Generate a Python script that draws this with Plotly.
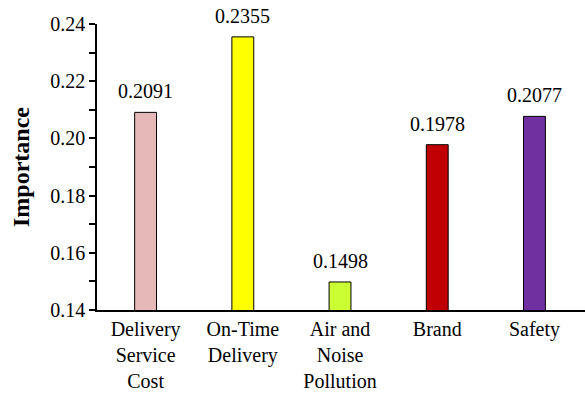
import plotly.graph_objects as go

categories = ["Delivery<br>Service<br>Cost", "On-Time<br>Delivery", "Air and<br>Noise<br>Pollution", "Brand", "Safety"]
importance = [0.2091, 0.2355, 0.1498, 0.1978, 0.2077]
bar_colors = ["#E6B8B7", "#FFFF00", "#CCFF33", "#C00000", "#7030A0"]
y_ticks = [0.14, 0.16, 0.18, 0.20, 0.22, 0.24]
y_tick_text = ["0.14", "0.16", "0.18", "0.20", "0.22", "0.24"]

font_family = "Liberation Serif"

fig = go.Figure(
    go.Bar(
        x=list(range(len(categories))),
        y=importance,
        base=0,
        width=0.225,
        marker=dict(color=bar_colors, line=dict(color="#000000", width=1)),
    )
)

for i, v in enumerate(importance):
    fig.add_annotation(
        x=i, y=v, text=f"{v:.4f}", showarrow=False,
        yanchor="bottom", yshift=8,
        font=dict(family=font_family, size=20, color="#000000"),
    )

fig.update_layout(
    width=585, height=397,
    margin=dict(l=97, r=0, t=24, b=87),
    paper_bgcolor="white", plot_bgcolor="white",
    showlegend=False,
    font=dict(family=font_family, color="#000000"),
)

fig.update_xaxes(
    range=[-0.5, 4.52],
    tickmode="array", tickvals=list(range(len(categories))), ticktext=categories,
    tickfont=dict(family=font_family, size=20),
    showline=True, linecolor="#000000", linewidth=1.5,
    ticks="", showgrid=False, zeroline=False,
)

fig.update_yaxes(
    range=[0.14, 0.24],
    tickmode="array", tickvals=y_ticks, ticktext=y_tick_text,
    tickfont=dict(family=font_family, size=20),
    ticks="outside", ticklen=6, tickcolor="#000000", tickwidth=1.5,
    minor=dict(dtick=0.01, ticks="outside", ticklen=6, tickcolor="#000000", tickwidth=1.5, showgrid=False),
    showline=True, linecolor="#000000", linewidth=1.5,
    showgrid=False, zeroline=False,
    title=dict(text="<b>Importance</b>", font=dict(family=font_family, size=24), standoff=14),
)

fig.write_html("out.html")
